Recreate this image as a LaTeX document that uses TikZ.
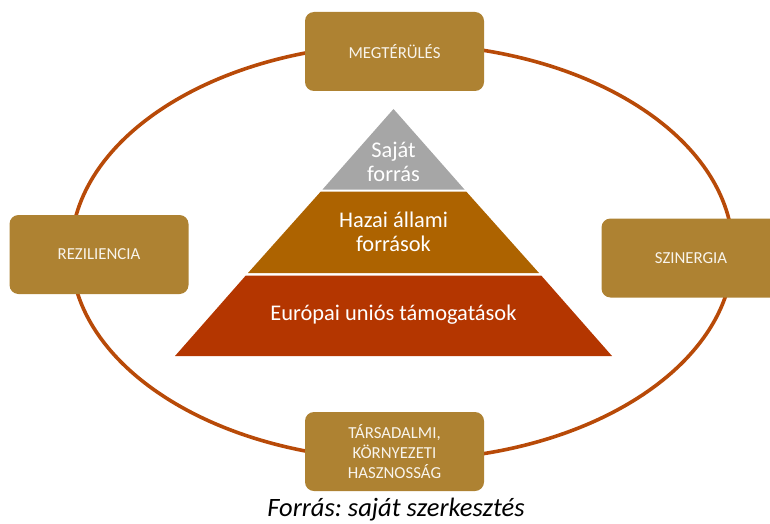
\documentclass[tikz,border=0pt]{standalone}
\usepackage{fontspec}
\setmainfont{Carlito}
\frenchspacing
\definecolor{boxgold}{HTML}{AE8232}
\definecolor{ringc}{HTML}{B84A08}
\definecolor{tgray}{HTML}{A6A6A6}
\definecolor{tmid}{HTML}{AD6300}
\definecolor{tbot}{HTML}{B43600}
\definecolor{txtw}{HTML}{F8F4EC}
\begin{document}
\begin{tikzpicture}[x=1pt,y=-1pt,
  goldbox/.style={fill=boxgold, rounded corners=9pt, minimum width=179pt, minimum height=79pt,
     text=txtw, align=center, font=\fontsize{16.8}{20}\selectfont, inner sep=0pt},
  pyrtext/.style={text=white, align=center, font=\fontsize{22.4}{24}\selectfont, inner sep=0pt}]
\useasboundingbox (0,0) rectangle (770,524);
% ring
\draw[ringc, line width=3.6pt] (402,252) ellipse [x radius=331, y radius=208];
% pyramid
\fill[tgray] (393.5,109) -- (322.5,189.5) -- (464.5,189.5) -- cycle;
\fill[tmid] (320.8,191.5) -- (466.2,191.5) -- (539,273) -- (248,273) -- cycle;
\fill[tbot] (245.8,275.5) -- (541.2,275.5) -- (612,356) -- (175,356) -- cycle;
\node[pyrtext] (saj) at (393.5,162) {Saját\\forrás};
\node[pyrtext] (haz) at (393.5,232) {Hazai állami\\források};
\node[pyrtext] (eur) at (393.5,315) {Európai uniós támogatások};
% boxes
\node[goldbox] (meg) at (394.5,51.5) {MEGTÉRÜLÉS};
\node[goldbox] (rez) at (99,254.5) {REZILIENCIA};
\node[goldbox] (szi) at (691,258) {SZINERGIA};
\node[goldbox] (tar) at (394.5,451.5) {TÁRSADALMI,\\KÖRNYEZETI\\HASZNOSSÁG};
% caption
\node[font=\fontsize{26.5}{30}\selectfont\itshape, inner sep=0pt] (cap) at (396,510) {Forrás: saját szerkesztés};
\end{tikzpicture}
\end{document}
